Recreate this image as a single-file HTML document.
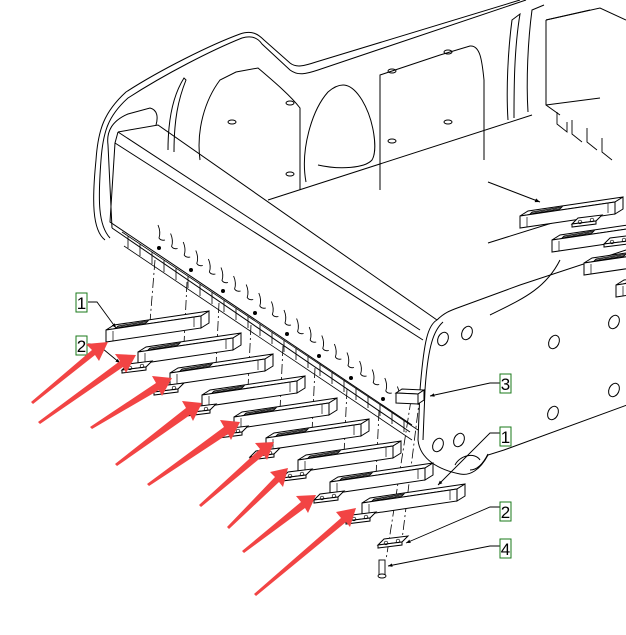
<!DOCTYPE html>
<html><head><meta charset="utf-8"><style>
html,body{margin:0;padding:0;background:#fff;}
svg{display:block;}
text{font-family:"Liberation Sans",sans-serif;}
</style></head><body>
<svg width="626" height="635" viewBox="0 0 626 635" xmlns="http://www.w3.org/2000/svg">
<defs>
<marker id="ah" markerWidth="6" markerHeight="6" refX="5" refY="3" orient="auto"><path d="M0,1 L5,3 L0,5z" fill="#000"/></marker>
<g id="bar">
<polygon points="0,5 8,0 103,-14 95,-9" fill="#fff" stroke="#000" stroke-width="1"/>
<polygon points="0,5 95,-9 95,3 0,17" fill="#fff" stroke="#000" stroke-width="1"/>
<polygon points="95,-9 103,-14 103,-2 95,3" fill="#fff" stroke="#000" stroke-width="1"/>
<line x1="7" y1="6" x2="7" y2="16" stroke="#000" stroke-width="0.7"/>
<line x1="88" y1="-8" x2="88" y2="2" stroke="#000" stroke-width="0.7"/>
<polygon points="10,3 40,-2 42,-4 12,1" fill="none" stroke="#000" stroke-width="0.8"/>
<line x1="11" y1="2" x2="41" y2="-3" stroke="#000" stroke-width="0.5"/>
</g>
<g id="plate">
<polygon points="0,6 6,0 30,-3 24,3" fill="#fff" stroke="#000" stroke-width="1"/>
<polygon points="0,6 24,3 24,6 0,9" fill="#fff" stroke="#000" stroke-width="1"/>
<circle cx="8" cy="4" r="1.8" fill="none" stroke="#000" stroke-width="0.7"/>
<circle cx="20" cy="2" r="1.8" fill="none" stroke="#000" stroke-width="0.7"/>
</g>
<path id="hook" d="M0,0 q3,7 1,13 q2,3 6,2" fill="none" stroke="#000" stroke-width="0.9"/>
</defs>

<g fill="none" stroke="#000" stroke-width="1">
<path d="M105,240 C92,230 92,200 96,160 C98,130 104,112 126,92 C160,70 210,45 240,34 C252,30 258,34 264,40 L290,63 C296,68 304,66 316,62 L520,0"/>
<path d="M110,238 C98,225 98,200 101,160 C103,132 108,116 128,98 C165,74 212,50 242,38 C252,35 258,38 262,44 L290,70 C298,76 306,74 318,70 L526,0"/>
<path d="M112,228 L108,145 C106,130 114,120 128,114 L150,108 C158,110 158,118 156,125"/>
<path d="M174,152 C174,120 178,100 186,80 L184,78 C170,100 168,130 168,150"/>
<path d="M200,160 C196,130 205,100 220,80 L236,72 L258,68 C272,80 290,95 300,108 L300,190"/>
<path d="M306,182 C300,150 312,110 328,92 C342,80 352,84 362,100 C374,120 378,150 372,160 C365,168 340,170 318,165"/>
<path d="M380,190 L380,75 L440,55 L470,46 C480,45 482,60 484,80 L484,160"/>
<path d="M508,120 C506,90 508,50 512,20 L520,14 C514,50 514,90 514,118"/>
<path d="M528,112 C526,80 528,40 532,10 L544,5"/>
<path d="M546,20 L546,105 L560,115 M546,20 L590,10"/>
<path d="M546,20 L600,8 L626,20 M546,105 L600,98"/>
<!-- beam -->
<path d="M118,132 L158,125 L437,320"/>
<path d="M118,132 L420,330"/>
<path d="M115,143 L423,340"/>
<path d="M118,132 L115,143 L110,222 L412,425"/>
<path d="M112,228 L410,432"/>
<path d="M268,200 L532,115"/>
<path d="M490,315 C520,300 545,290 560,260"/>
<!-- side plate -->
<path d="M437,320 C428,325 424,340 420,390 L418,440 C420,460 440,470 460,474 C470,476 480,470 488,455 L504,450 L627,405"/>
<path d="M443,322 C434,330 428,345 425,390 L423,440"/>
<path d="M437,320 C445,312 452,310 460,307 L520,285 L626,250"/>
<path d="M455,465 C460,455 475,452 480,460"/>
<path d="M470,470 C478,470 484,462 488,454"/>
<path d="M488,182 L540,202" marker-end="url(#ah)"/>
<path d="M488,243 L568,218" marker-end="url(#ah)"/>
</g>
<g fill="none" stroke="#000" stroke-width="1">
<ellipse cx="443" cy="339" rx="5" ry="7" transform="rotate(25 443 339)"/>
<ellipse cx="467" cy="333" rx="5" ry="7" transform="rotate(25 467 333)"/>
<ellipse cx="438" cy="445" rx="5" ry="7" transform="rotate(25 438 445)"/>
<ellipse cx="459" cy="440" rx="5" ry="7" transform="rotate(25 459 440)"/>
<ellipse cx="554" cy="342" rx="5" ry="7" transform="rotate(25 554 342)"/>
<ellipse cx="553" cy="413" rx="5" ry="7" transform="rotate(25 553 413)"/>
<ellipse cx="614" cy="322" rx="5" ry="7" transform="rotate(25 614 322)"/>
<ellipse cx="614" cy="390" rx="5" ry="7" transform="rotate(25 614 390)"/>
<ellipse cx="232" cy="122" rx="4" ry="2"/><ellipse cx="290" cy="103" rx="4" ry="2"/>
<ellipse cx="290" cy="174" rx="4" ry="2"/><ellipse cx="392" cy="71" rx="4" ry="2"/>
<ellipse cx="448" cy="52" rx="4" ry="2"/><ellipse cx="448" cy="122" rx="4" ry="2"/>
<ellipse cx="392" cy="141" rx="4" ry="2"/>
</g>
<g transform="translate(520,211)"><use href="#bar"/></g>
<g transform="translate(552,235)"><use href="#bar"/></g>
<g transform="translate(584,258)"><use href="#bar"/></g>
<g transform="translate(616,280)"><use href="#bar"/></g>
<g transform="translate(572,218)"><use href="#plate"/></g>
<g transform="translate(604,238)"><use href="#plate"/></g>
<g fill="none" stroke="#000" stroke-width="0.9">
<path d="M557,112 v12 l10,8 v-10 M572,120 v14 l10,8 M587,128 v14 l10,8 M602,138 v14 l10,8"/>
</g>
<g>
<use href="#hook" x="158" y="225"/><use href="#hook" x="170.6" y="233.5"/><use href="#hook" x="183.2" y="242"/>
<use href="#hook" x="195.8" y="250.5"/><use href="#hook" x="208.4" y="259"/><use href="#hook" x="221" y="267.5"/>
<use href="#hook" x="233.6" y="276"/><use href="#hook" x="246.2" y="284.5"/><use href="#hook" x="258.8" y="293"/>
<use href="#hook" x="271.4" y="301.5"/><use href="#hook" x="284" y="310"/><use href="#hook" x="296.6" y="318.5"/>
<use href="#hook" x="309.2" y="327"/><use href="#hook" x="321.8" y="335.5"/><use href="#hook" x="334.4" y="344"/>
<use href="#hook" x="347" y="352.5"/><use href="#hook" x="359.6" y="361"/><use href="#hook" x="372.2" y="369.5"/>
<use href="#hook" x="384.8" y="378"/><use href="#hook" x="397.4" y="386.5"/>
</g>
<g fill="none" stroke="#000" stroke-width="0.8">
<path d="M122,232 L418,430 M124,246 L412,440"/>
<path d="M128,236 v12 M140,244 v12 M152,252 v12 M164,260 v12 M176,268 v12 M188,276 v12 M200,284 v12 M212,292 v12 M224,300 v12 M236,308 v12 M248,316 v12 M260,324 v12 M272,332 v12 M284,340 v12 M296,348 v12 M308,356 v12 M320,364 v12 M332,372 v12 M344,380 v12 M356,388 v12 M368,396 v12 M380,404 v12 M392,412 v12 M404,420 v12"/>
</g>
<g fill="#000">
<circle cx="159" cy="248" r="2"/><circle cx="191" cy="270" r="2"/><circle cx="223" cy="291" r="2"/>
<circle cx="255" cy="313" r="2"/><circle cx="287" cy="334" r="2"/><circle cx="319" cy="356" r="2"/>
<circle cx="351" cy="378" r="2"/><circle cx="383" cy="399" r="2"/>
</g>
<g stroke="#000" stroke-width="0.8" stroke-dasharray="10,3,2,3" fill="none">
<path d="M155,260 L150,322 M187,282 L184,344 M219,303 L216,366 M251,325 L248,388 M283,346 L280,410 M315,368 L312,432 M347,389 L344,454 M379,411 L376,476 M411,400 L386,560 M420,395 L402,540"/>
</g>
<g transform="translate(106,325)"><use href="#bar"/></g>
<g transform="translate(138,347)"><use href="#bar"/></g>
<g transform="translate(170,368)"><use href="#bar"/></g>
<g transform="translate(202,390)"><use href="#bar"/></g>
<g transform="translate(234,412)"><use href="#bar"/></g>
<g transform="translate(266,433)"><use href="#bar"/></g>
<g transform="translate(298,455)"><use href="#bar"/></g>
<g transform="translate(330,477)"><use href="#bar"/></g>
<g transform="translate(362,498)"><use href="#bar"/></g>
<g transform="translate(122,364)"><use href="#plate"/></g>
<g transform="translate(154,386)"><use href="#plate"/></g>
<g transform="translate(186,407)"><use href="#plate"/></g>
<g transform="translate(218,429)"><use href="#plate"/></g>
<g transform="translate(250,451)"><use href="#plate"/></g>
<g transform="translate(282,472)"><use href="#plate"/></g>
<g transform="translate(314,494)"><use href="#plate"/></g>
<g transform="translate(346,515)"><use href="#plate"/></g>
<g transform="translate(378,539)"><use href="#plate"/></g>
<g fill="#fff" stroke="#000" stroke-width="0.9">
<rect x="379" y="560" width="6" height="15"/>
<ellipse cx="382" cy="576" rx="4" ry="2"/>
</g>
<g fill="#fff" stroke="#000" stroke-width="1">
<polygon points="396,393 402,389 424,390 418,394"/>
<polygon points="396,393 418,394 418,404 396,403"/>
<polygon points="418,394 424,390 424,400 418,404"/>
</g>
<g fill="none" stroke="#000" stroke-width="0.9" marker-end="url(#ah)">
<path d="M88,302 L97,302 L116,328"/>
<path d="M88,344 L97,344 L120,363"/>
<path d="M500,383 L490,383 L430,396"/>
<path d="M500,433 L490,433 L438,485"/>
<path d="M500,507 L490,507 L406,543"/>
<path d="M500,546 L490,546 L388,566"/>
</g>
<g fill="#fff" stroke="#1a7a1a" stroke-width="1">
<rect x="76" y="293" width="11" height="19"/><rect x="76" y="336" width="11" height="19"/>
<rect x="500" y="374" width="11" height="19"/><rect x="500" y="427" width="11" height="19"/>
<rect x="500" y="502" width="11" height="19"/><rect x="500" y="539" width="11" height="19"/>
</g>
<g font-size="17" fill="#000" text-anchor="middle">
<text x="81.5" y="309">1</text><text x="81.5" y="352">2</text>
<text x="505.5" y="390">3</text><text x="505.5" y="443">1</text>
<text x="505.5" y="518">2</text><text x="505.5" y="555">4</text>
</g>
<g fill="#f24444">
<polygon points="31,402 92,350 86,344 108,342 99,361 95,355 33,404"/>
<polygon points="38,422 120,361 115,354 136,355 126,373 123,367 40,424"/>
<polygon points="90,427 156,383 152,376 172,378 162,396 159,390 92,429"/>
<polygon points="115,464 186,408 182,401 202,403 193,421 190,415 117,466"/>
<polygon points="147,484 224,427 220,420 240,422 231,440 228,434 149,486"/>
<polygon points="199,505 260,449 255,443 274,442 267,460 264,455 201,507"/>
<polygon points="227,527 275,477 270,472 288,468 283,487 279,482 229,529"/>
<polygon points="242,551 301,502 296,496 316,495 308,513 305,508 244,553"/>
<polygon points="254,594 341,518 336,512 356,508 350,527 346,522 256,596"/>
</g>
</svg>
</body></html>
